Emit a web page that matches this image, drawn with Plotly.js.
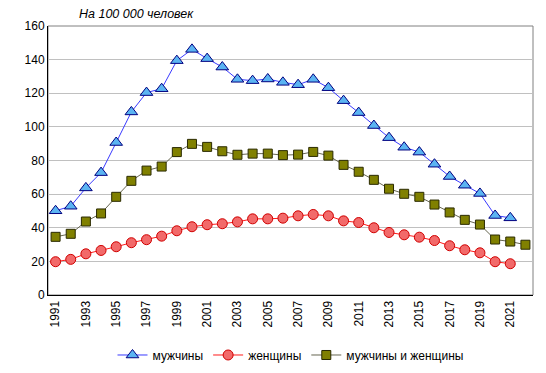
<!DOCTYPE html>
<html>
<head>
<meta charset="utf-8">
<script src="https://cdn.plot.ly/plotly-3.0.1.min.js"></script>
<style>html,body{margin:0;padding:0;background:#fff}#chart{width:546px;height:373px}</style>
</head>
<body>
<div id="chart"></div>
<script>
const years = [1991,1992,1993,1994,1995,1996,1997,1998,1999,2000,2001,2002,2003,2004,2005,2006,2007,2008,2009,2010,2011,2012,2013,2014,2015,2016,2017,2018,2019,2020,2021,2022];
const men = [50.1,52.8,63.7,72.8,90.7,108.9,120.4,122.7,139.4,146.1,140.6,135.6,128.3,127.5,128.5,126.5,125.1,128.3,123.3,115.6,108.5,100.8,93.6,87.9,85.0,77.8,70.5,65.3,60.4,47.3,45.9,null];
const women = [19.8,21.2,24.5,26.5,28.7,31.1,32.9,35.0,38.2,40.6,41.8,42.4,43.5,45.3,45.3,45.7,47.1,47.9,47.1,44.1,43.1,40.0,37.2,35.8,34.4,32.4,29.3,26.9,25.1,19.8,18.6,null];
const both = [34.6,36.4,43.7,48.5,58.4,67.9,74.0,76.4,85.0,89.9,88.1,85.5,83.4,84.1,84.1,83.2,83.5,85.1,82.9,77.4,73.3,68.5,63.2,60.2,58.4,53.8,49.1,44.7,41.9,33.0,31.8,29.9];
const seriesNames = ["мужчины","женщины","мужчины и женщины"];
const unitLabel = "На 100 000 человек";

const font = {family: "Liberation Sans, Arial, sans-serif", size: 12, color: "#000"};
const traces = [
  {x: years, y: men, name: seriesNames[0], type: "scatter", mode: "lines+markers",
   line: {color: "#3a3aff", width: 1},
   marker: {symbol: "triangle-up", size: 11, color: "#5bb4f2", line: {color: "#000080", width: 1}}},
  {x: years, y: women, name: seriesNames[1], type: "scatter", mode: "lines+markers",
   line: {color: "#ff1a1a", width: 1},
   marker: {symbol: "circle", size: 10, color: "#f26a6a", line: {color: "#d00000", width: 1}}},
  {x: years, y: both, name: seriesNames[2], type: "scatter", mode: "lines+markers",
   line: {color: "#666650", width: 1},
   marker: {symbol: "square", size: 9, color: "#808000", line: {color: "#2a2a00", width: 1}}}
];
const layout = {
  width: 546, height: 373,
  margin: {l: 48, r: 13, t: 26, b: 78, autoexpand: false},
  paper_bgcolor: "#fff", plot_bgcolor: "#fff",
  font: font,
  showlegend: true,
  legend: {orientation: "h", x: 0.5, xanchor: "center", y: -0.223, yanchor: "middle",
           font: {family: font.family, size: 12, color: "#000"}, tracegroupgap: 0},
  xaxis: {range: [1990.5, 2022.5], tickmode: "linear", tick0: 1991, dtick: 2,
          tickangle: -90, showgrid: false, zeroline: false, showline: true,
          linecolor: "#000", linewidth: 1, ticks: "", ticklen: 0,
          tickfont: {family: font.family, size: 12, color: "#000"}},
  yaxis: {range: [0, 160], dtick: 20, showgrid: true, gridcolor: "#c0c0c0", gridwidth: 1,
          zeroline: false, showline: true, linecolor: "#000", linewidth: 1, ticks: "",
          tickfont: {family: font.family, size: 12, color: "#000"}},
  shapes: [{type: "rect", xref: "paper", yref: "paper", x0: 0, x1: 1, y0: 0, y1: 1,
            line: {color: "#808080", width: 1}, layer: "below"}],
  annotations: [{text: "<i>" + unitLabel + "</i>", xref: "paper", yref: "paper",
                 x: 0.06, xanchor: "left", y: 1.045, yanchor: "middle", showarrow: false,
                 font: {family: font.family, size: 12.5, color: "#000"}}]
};
Plotly.newPlot("chart", traces, layout, {displayModeBar: false, staticPlot: true});
</script>
</body>
</html>
